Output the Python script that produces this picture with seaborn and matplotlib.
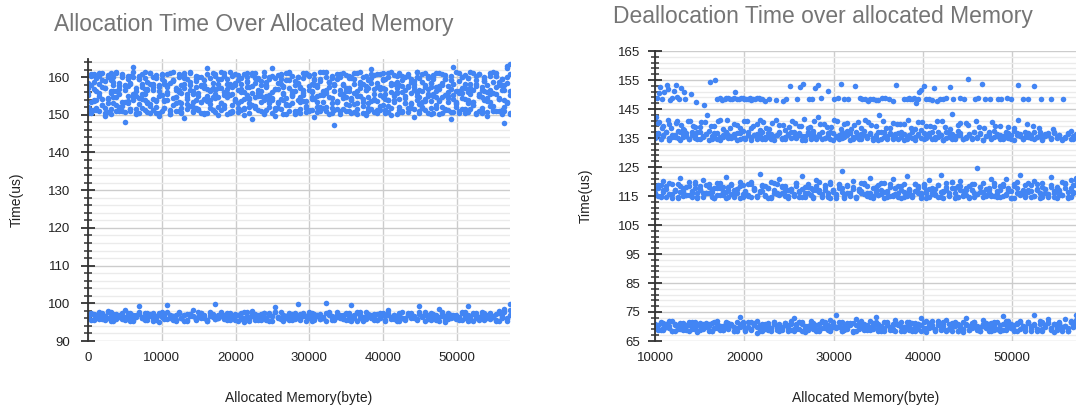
import matplotlib
matplotlib.use("Agg")
import pandas as pd
import matplotlib.pyplot as plt
from matplotlib.ticker import MultipleLocator
import seaborn as sns

# === Datos ===
# Asignación: tamaños barridos (bytes) y tiempos (us) por franja
alloc_sizes = [
    0, 370, 760, 1150, 1530, 1910, 2300, 2680, 3070, 3440,
    3830, 4220, 4600, 4990, 5360, 5750, 6130, 6520, 6900, 7290,
    7670, 8050, 8440, 8820, 9200, 9590, 9970, 10360, 10740, 11130,
    11500, 11890, 12270, 12660, 13040, 13420, 13810, 14190, 14580, 14960,
    15340, 15730, 16110, 16500, 16880, 17260, 17650, 18030, 18420, 18800,
    19180, 19570, 19950, 20340, 20720, 21100, 21490, 21870, 22260, 22640,
    23020, 23410, 23790, 24180, 24560, 24940, 25330, 25710, 26100, 26480,
    26860, 27250, 27630, 28020, 28400, 28780, 29170, 29550, 29940, 30320,
    30700, 31090, 31470, 31860, 32240, 32620, 33010, 33390, 33780, 34160,
    34540, 34930, 35310, 35700, 36080, 36460, 36850, 37230, 37620, 38000,
    38380, 38770, 39150, 39540, 39920, 40300, 40690, 41070, 41460, 41840,
    42220, 42610, 42990, 43380, 43760, 44140, 44530, 44910, 45300, 45680,
    46060, 46450, 46830, 47220, 47600, 47980, 48370, 48750, 49140, 49520,
    49900, 50290, 50670, 51060, 51440, 51820, 52210, 52590, 52980, 53360,
    53740, 54130, 54510, 54900, 55280, 55660, 56050, 56430, 56820, 57200,
]
alloc_upper_a = [
    158.4, 160.2, 156.9, 159.7, 161.1, 157.3, 159.0, 160.6, 156.2, 158.8,
    161.4, 157.7, 159.9, 156.5, 160.3, 158.1, 162.8, 157.0, 159.4, 160.9,
    156.8, 158.6, 161.2, 157.5, 159.8, 156.3, 160.5, 158.2, 157.9, 161.0,
    159.3, 156.6, 160.8, 158.0, 157.2, 159.6, 161.3, 156.4, 158.9, 160.1,
    157.6, 159.2, 162.3, 156.7, 158.5, 160.7, 157.1, 159.5, 161.2, 156.9,
    158.3, 160.4, 157.8, 159.1, 156.1, 160.9, 158.7, 157.4, 161.1, 159.8,
    156.5, 158.0, 160.2, 157.3, 159.6, 162.5, 156.8, 158.4, 160.6, 157.7,
    159.3, 161.4, 156.2, 158.9, 160.0, 157.0, 159.7, 161.0, 156.6, 158.2,
    160.8, 157.5, 159.0, 156.3, 161.3, 158.6, 160.3, 157.9, 159.4, 156.7,
    158.1, 160.5, 157.2, 159.9, 161.2, 156.4, 158.8, 160.1, 157.6, 159.2,
    162.1, 156.9, 158.5, 160.7, 157.1, 159.5, 161.1, 156.0, 158.3, 160.4,
    157.8, 159.1, 156.5, 160.9, 158.7, 157.4, 161.4, 159.8, 156.2, 158.0,
    160.2, 157.3, 159.6, 161.0, 156.8, 158.4, 160.6, 157.7, 159.3, 162.7,
    156.3, 158.9, 160.0, 157.0, 159.7, 161.3, 156.6, 158.2, 160.8, 157.5,
    159.0, 156.1, 161.2, 158.6, 160.3, 157.9, 159.4, 156.7, 162.9, 163.4,
]
alloc_upper_b = [
    152.1, 150.4, 153.8, 151.2, 155.0, 152.7, 149.8, 154.3, 151.6, 153.1,
    150.9, 155.4, 152.4, 148.2, 153.6, 151.0, 154.8, 150.2, 152.9, 155.6,
    151.4, 153.3, 150.6, 154.1, 152.0, 149.6, 155.2, 151.8, 153.9, 150.3,
    152.6, 154.6, 151.1, 153.0, 149.1, 155.5, 152.3, 150.7, 154.0, 151.5,
    153.5, 150.1, 155.1, 152.8, 151.3, 154.5, 149.9, 153.2, 151.9, 155.7,
    150.5, 152.5, 154.2, 151.7, 153.7, 150.0, 155.3, 152.2, 148.8, 154.7,
    151.2, 153.4, 150.8, 155.0, 152.0, 154.4, 149.7, 153.1, 151.6, 155.5,
    150.3, 152.7, 154.9, 151.0, 153.8, 150.6, 155.2, 152.4, 151.4, 154.1,
    149.5, 153.3, 150.9, 155.6, 152.1, 154.6, 151.8, 147.4, 153.6, 150.2,
    155.4, 152.9, 151.1, 154.3, 150.7, 153.0, 155.1, 152.3, 149.9, 154.8,
    151.5, 153.9, 150.4, 155.3, 152.6, 151.3, 154.0, 150.0, 153.5, 155.7,
    152.2, 150.8, 154.5, 151.9, 153.2, 149.3, 155.0, 152.8, 151.7, 154.2,
    150.5, 153.7, 155.5, 152.5, 150.1, 154.7, 151.2, 153.4, 148.9, 155.2,
    152.0, 150.6, 154.4, 151.6, 153.1, 155.6, 152.7, 150.3, 154.9, 151.0,
    153.8, 149.6, 155.4, 152.4, 150.9, 154.1, 151.4, 147.8, 153.3, 150.2,
]
alloc_upper_c = [
    155.8, 151.3, 158.6, 153.9, 160.4, 152.5, 157.1, 150.7, 159.3, 154.6,
    156.2, 152.0, 160.8, 153.4, 157.7, 151.6, 159.9, 155.1, 150.5, 158.2,
    154.0, 156.9, 152.8, 160.1, 153.7, 157.4, 151.1, 159.0, 155.5, 150.9,
    158.9, 153.1, 156.6, 151.9, 160.6, 154.3, 157.9, 152.2, 159.6, 155.9,
    150.4, 158.0, 153.6, 156.3, 151.4, 160.3, 154.8, 157.2, 152.6, 159.4,
    155.3, 150.8, 158.4, 153.2, 156.8, 151.8, 160.0, 154.5, 157.6, 152.3,
    159.7, 155.0, 150.6, 158.7, 153.8, 156.1, 151.2, 160.5, 154.2, 157.3,
    152.9, 159.1, 155.6, 150.3, 158.3, 153.5, 156.7, 151.7, 160.2, 154.7,
    157.8, 152.1, 159.5, 155.2, 150.9, 158.8, 153.0, 156.4, 151.5, 160.7,
    154.4, 157.0, 152.7, 159.8, 155.7, 150.2, 158.1, 153.3, 156.5, 151.0,
    160.9, 154.1, 157.5, 152.4, 159.2, 155.4, 150.7, 158.5, 153.9, 156.0,
    151.3, 160.4, 154.9, 157.4, 152.8, 159.0, 155.8, 150.5, 158.6, 153.6,
    156.9, 151.9, 160.1, 154.6, 157.7, 152.0, 159.6, 155.1, 150.8, 158.2,
    153.4, 156.3, 151.6, 160.6, 154.0, 157.1, 152.5, 159.3, 155.5, 150.4,
    158.9, 153.7, 156.6, 151.1, 160.3, 154.3, 157.9, 152.2, 159.9, 156.2,
]
alloc_upper_d = [
    157.2, 153.5, 160.7, 151.8, 155.9, 159.1, 150.6, 154.4, 161.0, 156.3,
    152.7, 158.5, 150.9, 157.8, 153.0, 160.2, 155.4, 151.5, 159.6, 154.1,
    161.3, 156.7, 152.3, 158.1, 150.4, 155.0, 160.9, 153.8, 157.5, 151.2,
    159.3, 154.8, 156.0, 150.8, 161.1, 152.9, 158.7, 155.6, 151.7, 160.0,
    153.3, 157.0, 150.5, 159.8, 154.6, 156.5, 152.1, 161.4, 155.2, 158.3,
    150.7, 157.4, 153.9, 160.5, 151.4, 156.1, 159.0, 154.2, 152.5, 161.2,
    155.7, 158.9, 150.3, 157.6, 153.1, 160.3, 151.9, 156.8, 159.5, 154.0,
    152.6, 161.0, 155.3, 158.0, 150.9, 157.3, 153.6, 160.8, 151.1, 156.4,
    159.2, 154.9, 152.0, 161.3, 155.8, 158.6, 150.6, 157.9, 153.4, 160.1,
    151.6, 156.2, 159.7, 154.5, 152.8, 161.1, 155.1, 158.2, 150.4, 157.1,
    153.7, 160.6, 151.3, 156.9, 159.4, 154.3, 152.4, 161.4, 155.5, 158.8,
    150.8, 157.7, 153.2, 160.4, 151.8, 156.6, 159.9, 154.7, 152.2, 161.2,
    155.0, 158.4, 150.5, 157.5, 153.8, 160.9, 151.5, 156.0, 159.1, 154.1,
    152.9, 161.0, 155.9, 158.1, 150.7, 157.2, 153.5, 160.2, 151.0, 156.5,
    159.6, 154.4, 152.3, 161.3, 155.6, 158.7, 150.3, 157.8, 153.0, 160.7,
]
alloc_upper_e = [
    150.6, 160.8, 151.4, 159.7, 150.9, 161.2, 151.8, 160.1, 150.3, 159.9,
    161.0, 151.1, 160.5, 150.7, 159.6, 151.6, 161.3, 150.4, 160.3, 151.9,
    159.8, 150.8, 161.1, 151.3, 160.6, 150.5, 159.5, 151.7, 160.9, 150.2,
    161.4, 151.0, 160.0, 150.6, 159.7, 151.5, 161.2, 150.9, 160.4, 151.2,
    159.9, 150.4, 160.7, 151.8, 161.0, 150.7, 159.6, 151.4, 160.2, 150.3,
    161.3, 151.1, 160.8, 150.8, 159.8, 151.6, 161.1, 150.5, 160.5, 151.9,
    159.5, 150.9, 161.4, 151.3, 160.1, 150.6, 159.7, 151.7, 160.9, 150.2,
    161.2, 151.0, 160.3, 150.4, 159.9, 151.5, 161.0, 150.8, 160.6, 151.2,
    159.6, 150.7, 161.3, 151.8, 160.0, 150.3, 159.8, 151.4, 160.7, 150.9,
    161.1, 151.1, 160.4, 150.5, 159.5, 151.6, 161.4, 150.6, 160.2, 151.9,
    159.7, 150.8, 160.8, 151.3, 161.2, 150.4, 159.9, 151.7, 160.5, 150.2,
    161.0, 151.0, 160.1, 150.7, 159.6, 151.5, 161.3, 150.9, 160.9, 151.2,
    159.8, 150.3, 160.6, 151.8, 161.1, 150.6, 159.5, 151.4, 160.3, 150.8,
    161.4, 151.1, 160.0, 150.5, 159.7, 151.6, 161.2, 150.4, 160.7, 151.9,
    159.9, 150.7, 160.4, 151.3, 161.0, 150.9, 159.6, 151.0, 162.4, 150.5,
]
alloc_upper_f = [
    155.2, 157.9, 153.6, 156.4, 158.3, 154.1, 157.0, 153.2, 155.8, 158.0,
    154.7, 156.9, 153.4, 157.6, 155.0, 158.5, 153.9, 156.2, 154.4, 157.3,
    155.6, 153.1, 158.1, 156.7, 154.0, 157.8, 155.3, 153.7, 156.0, 158.4,
    154.5, 157.1, 153.3, 155.9, 158.2, 154.8, 156.5, 153.5, 157.5, 155.1,
    158.0, 154.2, 156.8, 153.8, 157.2, 155.5, 158.3, 153.0, 156.1, 154.6,
    157.7, 155.4, 153.6, 156.6, 158.1, 154.3, 157.4, 153.2, 155.7, 158.5,
    154.9, 156.3, 153.9, 157.9, 155.2, 154.0, 156.9, 153.4, 158.2, 155.8,
    154.5, 157.0, 153.1, 156.4, 158.4, 154.7, 155.9, 153.7, 157.6, 156.0,
    154.1, 158.0, 155.3, 153.5, 156.7, 157.3, 154.4, 158.3, 153.3, 155.6,
    157.8, 154.8, 156.2, 153.8, 158.1, 155.0, 157.1, 154.2, 156.5, 153.0,
    158.5, 155.4, 153.6, 157.5, 154.6, 156.8, 153.9, 158.0, 155.1, 157.2,
    154.3, 156.0, 153.2, 157.7, 155.7, 158.2, 154.0, 156.6, 153.4, 157.4,
    155.5, 158.4, 154.9, 156.3, 153.7, 157.9, 155.2, 154.5, 156.9, 158.1,
    153.1, 155.8, 157.0, 154.1, 156.1, 158.3, 153.5, 157.6, 155.0, 154.7,
    156.4, 158.0, 153.3, 155.9, 157.3, 154.4, 156.7, 153.8, 158.5, 155.3,
]
alloc_lower_a = [
    96.4, 97.2, 95.8, 96.9, 97.6, 96.1, 95.5, 97.9, 96.6, 97.1,
    95.9, 96.3, 97.4, 98.2, 96.0, 95.3, 97.0, 96.7, 99.4, 96.2,
    97.5, 95.7, 96.8, 97.3, 96.5, 95.1, 97.8, 96.4, 99.5, 97.0,
    95.6, 96.9, 97.6, 96.2, 95.4, 97.2, 96.7, 98.1, 95.8, 96.3,
    97.4, 96.0, 95.2, 97.7, 96.6, 99.8, 96.1, 97.1, 95.9, 96.8,
    97.3, 96.5, 95.5, 97.0, 96.4, 95.0, 97.6, 96.2, 97.9, 95.7,
    96.9, 97.2, 96.3, 95.6, 97.5, 96.7, 99.1, 96.0, 97.8, 95.4,
    96.6, 97.4, 96.1, 95.8, 99.9, 97.1, 96.5, 95.3, 97.7, 96.8,
    96.2, 97.0, 95.9, 96.4, 100.2, 97.3, 96.0, 95.5, 97.6, 96.7,
    96.3, 97.2, 95.6, 99.6, 96.9, 97.5, 96.1, 95.2, 97.8, 96.5,
    96.8, 97.1, 95.7, 96.2, 97.4, 96.6, 98.3, 95.9, 97.0, 96.4,
    95.4, 97.7, 96.0, 96.9, 97.3, 96.3, 95.8, 99.3, 96.7, 97.6,
    96.1, 95.5, 97.2, 96.8, 98.4, 96.5, 95.1, 97.5, 96.2, 96.9,
    97.0, 96.4, 95.7, 97.8, 99.4, 96.6, 95.3, 97.3, 96.0, 97.1,
    95.9, 96.7, 97.4, 96.3, 95.6, 97.9, 96.1, 98.6, 95.2, 99.9,
]
alloc_lower_b = [
    96.8, 95.6, 97.1, 96.2, 95.9, 97.4, 96.5, 96.0, 97.7, 95.4,
    96.3, 97.0, 96.9, 95.7, 96.6, 97.3, 95.2, 96.4, 97.6, 96.1,
    95.8, 96.7, 97.2, 96.0, 95.5, 97.5, 96.3, 96.9, 95.9, 97.0,
    96.6, 95.3, 97.4, 96.2, 96.8, 95.7, 97.1, 96.5, 95.6, 97.8,
    96.1, 96.9, 95.4, 97.3, 96.4, 95.9, 97.0, 96.7, 96.0, 97.5,
    95.5, 96.3, 97.2, 96.8, 95.8, 97.6, 96.2, 95.3, 96.6, 97.1,
    96.5, 95.6, 97.4, 96.0, 96.9, 95.4, 97.7, 96.3, 95.9, 97.0,
    96.7, 96.1, 95.5, 97.3, 96.4, 95.8, 97.2, 96.6, 96.0, 97.5,
    95.7, 96.8, 97.1, 96.2, 95.4, 97.6, 96.5, 95.9, 96.3, 97.0,
    96.9, 95.6, 97.4, 96.1, 96.7, 95.3, 97.8, 96.4, 95.8, 97.2,
    96.0, 96.6, 95.5, 97.3, 96.8, 95.7, 97.0, 96.3, 96.9, 95.4,
    97.5, 96.2, 95.9, 97.1, 96.5, 96.0, 95.6, 97.7, 96.4, 96.8,
    95.8, 97.2, 96.1, 96.6, 95.3, 97.4, 96.7, 95.9, 97.0, 96.3,
    96.5, 95.5, 97.6, 96.2, 96.9, 95.7, 97.3, 96.0, 96.4, 97.8,
    95.6, 96.8, 97.1, 96.3, 95.4, 97.5, 96.6, 97.9, 95.8, 98.1,
]
alloc_lower_c = [
    96.1, 97.3, 95.6, 96.8, 97.0, 95.9, 96.5, 97.6, 95.4, 96.2,
    97.1, 96.7, 95.8, 96.3, 97.5, 96.0, 95.5, 96.9, 97.2, 96.4,
    95.7, 97.4, 96.6, 95.3, 96.1, 97.0, 96.8, 95.9, 97.6, 96.2,
    96.5, 95.6, 97.3, 96.0, 96.9, 95.4, 97.1, 96.7, 95.8, 96.3,
    97.5, 96.4, 95.5, 96.6, 97.2, 95.9, 96.1, 97.7, 96.8, 95.7,
    96.2, 97.0, 96.5, 95.3, 97.4, 96.0, 96.7, 95.8, 97.1, 96.3,
    95.6, 96.9, 97.3, 96.1, 95.4, 96.6, 97.6, 96.4, 95.9, 97.0,
    96.2, 95.5, 97.2, 96.8, 96.0, 95.7, 97.5, 96.5, 96.3, 95.3,
    97.1, 96.7, 95.8, 96.1, 97.4, 96.9, 95.6, 96.4, 97.0, 96.2,
    95.9, 97.3, 96.6, 95.4, 96.0, 97.6, 96.8, 95.5, 96.5, 97.2,
    96.3, 95.7, 97.1, 96.1, 96.9, 95.3, 97.5, 96.4, 95.8, 96.7,
    97.0, 96.2, 95.6, 97.4, 96.0, 96.6, 95.9, 97.2, 96.5, 95.4,
    96.8, 97.3, 96.1, 95.7, 96.3, 97.6, 95.5, 96.9, 97.0, 96.4,
    95.8, 96.2, 97.5, 96.7, 95.3, 96.0, 97.1, 96.5, 95.6, 96.8,
    97.4, 96.1, 95.9, 96.6, 97.2, 95.4, 96.3, 97.7, 96.0, 96.9,
]

# Liberación: tamaños barridos (bytes) y tiempos (us) por franja
dealloc_sizes = [
    10000, 10320, 10630, 10950, 11270, 11580, 11900, 12220, 12530, 12850,
    13170, 13480, 13800, 14120, 14430, 14750, 15070, 15380, 15700, 16020,
    16330, 16650, 16970, 17280, 17600, 17920, 18230, 18550, 18870, 19180,
    19500, 19820, 20130, 20450, 20770, 21080, 21400, 21720, 22030, 22350,
    22670, 22980, 23300, 23620, 23930, 24250, 24570, 24880, 25200, 25520,
    25830, 26150, 26470, 26780, 27100, 27420, 27730, 28050, 28370, 28680,
    29000, 29320, 29630, 29950, 30270, 30580, 30900, 31220, 31530, 31850,
    32170, 32480, 32800, 33120, 33430, 33750, 34070, 34380, 34700, 35020,
    35330, 35650, 35970, 36280, 36600, 36920, 37230, 37550, 37870, 38180,
    38500, 38820, 39130, 39450, 39770, 40080, 40400, 40720, 41030, 41350,
    41670, 41980, 42300, 42620, 42930, 43250, 43570, 43880, 44200, 44520,
    44830, 45150, 45470, 45780, 46100, 46420, 46730, 47050, 47370, 47680,
    48000, 48320, 48630, 48950, 49270, 49580, 49900, 50220, 50530, 50850,
    51170, 51480, 51800, 52120, 52430, 52750, 53070, 53380, 53700, 54020,
    54330, 54650, 54970, 55280, 55600, 55920, 56230, 56550, 56870, 57180,
]
dealloc_70_a = [
    70.2, 69.1, 71.4, 68.7, 70.8, 69.6, 71.9, 68.4, 70.0, 69.3,
    71.2, 68.9, 70.5, 69.8, 71.6, 68.2, 70.3, 69.0, 71.1, 70.7,
    68.6, 69.5, 71.8, 70.1, 68.8, 69.9, 71.3, 70.6, 68.3, 69.4,
    73.4, 70.9, 68.5, 69.7, 71.5, 70.4, 67.6, 69.2, 71.0, 70.2,
    68.9, 69.6, 71.7, 70.0, 68.4, 69.8, 71.2, 70.5, 68.7, 73.1,
    69.3, 71.4, 70.8, 68.1, 69.5, 71.9, 70.3, 68.6, 69.0, 71.6,
    70.7, 68.8, 72.3, 69.9, 74.0, 70.1, 68.5, 69.4, 71.3, 70.6,
    68.2, 72.6, 71.1, 69.7, 68.9, 70.4, 71.8, 69.2, 73.2, 70.9,
    68.3, 69.6, 71.5, 70.0, 68.7, 72.1, 71.0, 69.8, 68.4, 70.2,
    71.7, 69.1, 68.6, 70.8, 72.8, 69.5, 68.0, 71.2, 70.5, 69.3,
    71.9, 68.8, 70.1, 72.4, 69.0, 68.5, 71.4, 70.7, 69.7, 68.2,
    72.9, 70.3, 69.4, 71.6, 68.9, 70.0, 72.2, 69.8, 68.6, 71.1,
    70.6, 69.2, 68.3, 73.5, 70.4, 71.8, 69.6, 68.7, 70.9, 72.0,
    69.9, 68.4, 71.3, 70.2, 74.1, 69.1, 68.8, 71.5, 70.5, 72.7,
    69.5, 68.1, 71.0, 70.8, 69.3, 72.5, 68.6, 71.7, 70.1, 73.8,
]
dealloc_70_b = [
    69.4, 70.6, 68.8, 71.2, 69.9, 70.1, 68.5, 71.0, 69.6, 70.8,
    68.9, 70.3, 71.5, 69.2, 70.0, 68.6, 71.3, 69.8, 70.5, 68.4,
    71.1, 69.5, 70.7, 68.7, 70.2, 71.6, 69.1, 70.4, 69.7, 68.3,
    70.9, 71.4, 69.3, 70.0, 68.8, 71.2, 69.9, 70.6, 68.5, 71.0,
    70.3, 69.4, 71.7, 68.9, 70.1, 69.6, 71.3, 68.6, 70.8, 69.2,
    70.5, 71.5, 68.4, 69.8, 70.2, 71.1, 69.0, 68.7, 70.7, 71.8,
    69.5, 70.4, 68.3, 71.4, 69.7, 70.0, 71.6, 68.8, 69.3, 70.9,
    71.2, 68.5, 70.6, 69.9, 71.0, 69.1, 68.9, 70.3, 71.7, 69.6,
    70.1, 68.6, 71.3, 69.4, 70.8, 68.4, 70.5, 71.5, 69.2, 70.0,
    68.7, 71.1, 69.8, 70.7, 68.3, 71.4, 69.5, 70.2, 71.8, 68.9,
    70.4, 69.0, 71.6, 68.6, 70.9, 69.7, 71.2, 68.5, 70.1, 69.3,
    71.0, 68.8, 70.6, 71.5, 69.9, 68.4, 70.3, 71.3, 69.6, 70.0,
    68.7, 71.7, 69.1, 70.8, 68.9, 71.1, 69.4, 70.5, 68.3, 71.4,
    70.2, 69.8, 71.6, 68.6, 70.7, 69.2, 71.0, 68.5, 70.4, 71.2,
    69.5, 70.9, 68.8, 71.5, 69.7, 70.1, 68.4, 71.8, 69.9, 71.3,
]
dealloc_70_c = [
    70.7, 68.9, 71.3, 69.5, 70.0, 71.8, 68.6, 70.4, 69.2, 71.1,
    69.8, 70.6, 68.4, 71.5, 69.3, 70.9, 68.7, 71.0, 69.9, 70.2,
    68.5, 71.7, 69.6, 70.3, 68.8, 71.2, 69.4, 70.8, 68.3, 71.4,
    69.7, 70.1, 68.9, 71.6, 69.0, 70.5, 71.9, 68.6, 70.0, 69.3,
    71.3, 68.4, 70.7, 69.8, 71.0, 68.8, 70.4, 69.5, 71.8, 68.5,
    70.9, 69.1, 71.5, 70.2, 68.7, 69.9, 71.2, 70.6, 68.3, 69.6,
    71.7, 70.0, 68.9, 70.8, 69.4, 71.4, 68.6, 70.3, 69.7, 71.1,
    68.4, 70.5, 69.2, 71.9, 70.1, 68.8, 69.8, 71.3, 70.7, 68.5,
    69.5, 71.6, 70.4, 68.7, 69.0, 71.0, 70.9, 68.3, 69.9, 71.5,
    70.2, 68.6, 71.2, 69.3, 70.6, 68.9, 71.8, 69.6, 70.0, 68.4,
    71.4, 69.7, 70.8, 68.8, 69.1, 71.1, 70.3, 68.5, 69.4, 71.7,
    70.5, 68.7, 71.3, 69.8, 70.1, 68.3, 71.0, 69.5, 70.9, 68.6,
    71.6, 69.2, 70.4, 68.9, 71.9, 69.9, 70.7, 68.4, 71.2, 69.0,
    70.2, 68.8, 71.5, 69.6, 70.6, 68.5, 71.8, 69.3, 70.0, 71.4,
    68.7, 70.8, 69.7, 71.1, 68.3, 70.3, 69.4, 71.7, 70.5, 72.2,
]
dealloc_117_a = [
    116.2, 118.7, 114.9, 120.3, 117.4, 115.6, 119.2, 116.8, 114.5, 121.1,
    117.9, 115.2, 118.4, 116.0, 119.8, 114.7, 117.1, 120.6, 115.9, 118.1,
    116.5, 114.3, 119.5, 117.6, 115.4, 121.4, 116.9, 118.9, 114.8, 117.3,
    120.0, 115.7, 116.4, 119.1, 114.6, 117.8, 115.1, 122.7, 116.7, 118.3,
    114.4, 119.7, 117.0, 115.8, 120.9, 116.1, 118.6, 114.9, 117.5, 115.3,
    119.4, 116.6, 121.8, 114.5, 118.0, 115.5, 117.2, 120.4, 116.3, 114.8,
    118.8, 115.0, 119.9, 116.9, 114.2, 117.7, 123.6, 115.6, 118.5, 116.2,
    120.2, 114.7, 117.4, 115.9, 119.3, 116.0, 121.2, 114.4, 118.2, 115.4,
    117.1, 119.6, 116.5, 114.9, 120.7, 115.7, 118.4, 117.0, 114.6, 121.9,
    116.8, 115.2, 119.0, 117.6, 114.3, 118.9, 116.1, 120.5, 115.8, 117.3,
    114.8, 122.3, 116.4, 118.1, 115.0, 119.8, 117.9, 114.5, 120.1, 116.7,
    115.5, 118.6, 117.2, 114.7, 124.8, 116.3, 119.4, 115.3, 117.8, 121.0,
    114.9, 116.6, 118.3, 115.1, 120.8, 117.5, 114.4, 119.1, 116.0, 122.1,
    115.6, 118.7, 117.0, 114.6, 120.3, 116.9, 115.9, 119.6, 117.4, 114.8,
    121.5, 116.2, 118.0, 115.4, 119.9, 117.7, 114.5, 120.6, 116.5, 121.3,
]
dealloc_117_b = [
    115.3, 117.6, 114.6, 116.9, 118.4, 115.8, 114.2, 117.1, 119.0, 116.3,
    114.9, 118.1, 115.5, 116.7, 119.3, 114.4, 117.4, 115.9, 118.8, 116.0,
    114.7, 117.9, 115.2, 119.4, 116.5, 114.3, 118.2, 115.7, 117.0, 116.1,
    118.6, 114.8, 116.8, 115.4, 119.1, 117.3, 114.5, 116.4, 118.9, 115.0,
    117.7, 114.2, 119.5, 116.2, 115.6, 118.0, 114.9, 117.2, 116.6, 115.1,
    118.5, 114.6, 117.5, 116.0, 119.2, 115.3, 114.4, 118.3, 116.9, 115.8,
    117.0, 114.7, 119.0, 116.4, 115.2, 118.7, 117.8, 114.3, 116.1, 115.5,
    118.1, 114.8, 117.3, 116.7, 119.4, 115.0, 114.5, 117.6, 116.3, 118.9,
    115.7, 114.2, 116.8, 119.3, 115.4, 117.9, 114.6, 118.4, 116.5, 115.1,
    117.1, 114.9, 119.1, 116.0, 115.9, 118.2, 114.4, 117.4, 116.2, 115.6,
    118.8, 114.7, 116.6, 119.5, 115.3, 117.7, 114.3, 118.6, 116.9, 115.0,
    117.2, 114.8, 119.0, 116.1, 115.8, 118.0, 114.5, 117.5, 116.4, 115.2,
    118.3, 114.6, 117.0, 119.2, 115.5, 116.7, 114.2, 118.5, 117.8, 115.9,
    116.3, 114.9, 119.4, 116.8, 115.1, 117.3, 114.4, 118.1, 116.0, 115.7,
    118.9, 114.7, 117.6, 116.5, 115.4, 119.1, 114.3, 117.9, 116.2, 118.7,
]
dealloc_117_c = [
    117.5, 115.1, 118.9, 116.4, 114.6, 119.6, 115.8, 117.2, 114.3, 118.4,
    116.7, 115.4, 119.9, 114.8, 117.8, 116.1, 118.6, 114.5, 115.9, 119.3,
    116.9, 114.2, 117.6, 115.3, 118.1, 116.5, 114.7, 119.0, 115.6, 117.4,
    114.4, 118.7, 116.2, 115.0, 119.7, 117.1, 114.9, 116.8, 118.3, 115.5,
    117.9, 114.6, 116.0, 119.2, 115.2, 118.5, 116.6, 114.3, 117.3, 115.7,
    119.5, 116.3, 114.8, 118.0, 115.9, 117.7, 114.5, 116.9, 119.8, 115.4,
    118.2, 116.1, 114.2, 117.0, 115.6, 119.1, 116.4, 114.7, 118.8, 115.1,
    117.5, 114.4, 116.7, 119.4, 115.8, 118.4, 116.0, 114.9, 117.2, 115.3,
    119.6, 116.5, 114.6, 118.1, 115.0, 117.8, 116.2, 114.3, 119.0, 115.7,
    117.4, 114.8, 116.8, 118.6, 115.2, 119.3, 116.6, 114.5, 117.6, 115.5,
    118.9, 116.3, 114.2, 117.1, 115.9, 119.7, 116.0, 114.7, 118.3, 115.4,
    117.9, 114.4, 116.9, 119.2, 115.6, 118.0, 116.4, 114.9, 117.3, 115.1,
    119.5, 116.1, 114.6, 118.5, 115.8, 117.7, 116.7, 114.3, 119.9, 115.3,
    117.0, 114.8, 116.5, 118.7, 115.0, 119.1, 116.2, 114.5, 117.5, 115.7,
    118.2, 116.8, 114.2, 117.2, 115.5, 119.4, 116.3, 114.7, 118.8, 120.4,
]
dealloc_136_a = [
    135.4, 136.7, 134.6, 135.9, 137.2, 134.9, 136.1, 135.2, 137.5, 134.4,
    136.4, 135.7, 134.8, 137.0, 135.0, 136.9, 134.5, 135.6, 136.3, 137.4,
    134.7, 135.8, 136.6, 134.3, 135.3, 137.1, 136.0, 134.9, 135.5, 136.8,
    134.6, 137.3, 135.1, 136.2, 134.4, 135.9, 136.5, 137.6, 134.8, 135.4,
    136.7, 134.5, 135.7, 136.0, 137.2, 134.7, 135.2, 136.4, 134.9, 137.0,
    135.6, 136.1, 134.3, 135.8, 136.9, 134.6, 137.4, 135.3, 136.3, 134.8,
    135.0, 136.6, 137.1, 134.4, 135.5, 136.2, 134.9, 135.9, 137.5, 136.8,
    134.5, 135.4, 136.0, 134.7, 137.3, 135.7, 136.5, 134.3, 135.1, 136.9,
    134.8, 137.0, 135.6, 136.3, 134.6, 135.2, 136.7, 137.2, 134.4, 135.8,
    136.1, 134.9, 135.3, 136.4, 137.6, 134.5, 135.9, 136.6, 134.7, 135.5,
    137.1, 136.0, 134.3, 135.0, 136.8, 134.8, 135.7, 137.4, 136.2, 134.6,
    135.4, 136.5, 134.9, 137.0, 135.1, 136.3, 134.4, 135.8, 136.9, 134.7,
    137.3, 135.6, 136.1, 134.5, 135.2, 136.7, 134.8, 137.5, 135.9, 136.4,
    134.6, 135.3, 136.6, 134.9, 137.2, 135.5, 136.0, 134.3, 135.7, 136.8,
    134.7, 137.1, 135.4, 136.2, 134.5, 135.0, 136.5, 137.4, 134.8, 135.6,
]
dealloc_136_b = [
    135.1, 136.4, 134.7, 135.8, 136.9, 134.4, 135.5, 136.2, 134.9, 137.0,
    135.3, 136.6, 134.5, 135.9, 136.1, 134.8, 137.2, 135.2, 136.5, 134.3,
    135.7, 136.8, 134.6, 135.4, 136.0, 137.1, 134.9, 135.6, 136.3, 134.4,
    136.7, 135.0, 134.7, 136.9, 135.5, 136.2, 134.5, 135.8, 137.0, 134.8,
    135.3, 136.4, 134.3, 135.9, 136.6, 135.1, 134.6, 136.1, 137.2, 135.4,
    134.9, 136.8, 135.7, 134.4, 136.3, 135.2, 136.5, 134.7, 135.6, 137.1,
    135.0, 136.0, 134.5, 136.7, 135.8, 134.8, 136.9, 135.3, 136.2, 134.3,
    135.5, 137.0, 134.6, 136.4, 135.9, 134.9, 136.6, 135.1, 136.1, 134.4,
    137.2, 135.4, 134.7, 136.8, 135.7, 136.3, 134.5, 135.2, 136.5, 134.8,
    135.6, 137.1, 134.3, 136.0, 135.0, 136.7, 134.9, 135.8, 136.9, 134.6,
    135.3, 136.2, 134.4, 137.0, 135.5, 136.4, 134.7, 135.9, 136.6, 134.5,
    135.1, 136.1, 134.8, 137.2, 135.4, 136.8, 134.3, 135.7, 136.3, 134.9,
    135.2, 136.5, 134.6, 135.6, 137.1, 135.0, 136.0, 134.4, 136.7, 135.8,
    134.7, 136.9, 135.3, 136.2, 134.5, 135.5, 137.0, 134.8, 136.4, 135.9,
    134.9, 136.6, 135.1, 136.1, 134.3, 135.4, 136.8, 134.6, 135.7, 136.3,
]
dealloc_139_sizes = [
    10100, 10500, 10900, 11400, 11800, 12300, 12900, 13300, 13900, 14500,
    15200, 15800, 16300, 17000, 17600, 18100, 18900, 19500, 20300, 21000,
    21800, 22400, 23100, 23900, 24600, 25300, 26100, 26700, 27400, 28200,
    28900, 29700, 30400, 31200, 31900, 32700, 33500, 34200, 35100, 35900,
    36600, 37400, 38300, 39100, 39900, 40800, 41600, 42500, 43300, 44200,
    45100, 45900, 46800, 47700, 48600, 49500, 50600, 51700, 53000, 54600,
]
dealloc_139 = [
    142.4, 140.6, 139.1, 141.2, 138.3, 140.1, 139.6, 137.9, 141.0, 138.8,
    140.4, 143.1, 139.3, 140.9, 138.1, 141.3, 139.8, 138.6, 140.7, 139.0,
    141.1, 138.4, 140.2, 139.5, 137.8, 140.8, 139.2, 141.4, 138.7, 142.2,
    140.0, 138.9, 141.0, 139.7, 138.2, 140.5, 141.2, 139.4, 142.8, 138.5,
    140.3, 139.9, 141.1, 138.0, 140.6, 139.1, 140.9, 138.8, 143.4, 140.1,
    139.6, 141.0, 138.4, 140.4, 139.3, 138.9, 141.1, 139.7, 138.6, 138.2,
]
dealloc_140_sizes = [
    10300, 10800, 11600, 12500, 13100, 13700, 14300, 15000, 15600, 16600,
    17300, 18400, 19200, 20000, 20700, 21400, 22100, 22800, 23500, 24300,
    25000, 25700, 26400, 27100, 27800, 28500, 29300, 30100, 30800, 31500,
    32300, 33100, 33900, 34700, 35500, 36300, 37100, 37900, 38700, 39500,
    40300, 41200, 42100, 43000, 43900, 44800, 46300, 48100, 50200, 52300,
]
dealloc_140 = [
    140.2, 138.5, 139.8, 141.0, 138.1, 140.7, 139.3, 138.8, 140.4, 139.0,
    141.2, 138.3, 139.6, 140.9, 138.6, 139.9, 140.5, 138.2, 141.1, 139.4,
    138.7, 140.1, 139.2, 138.4, 140.8, 139.7, 138.9, 141.3, 138.0, 140.3,
    139.5, 138.6, 140.6, 139.1, 141.0, 138.3, 140.0, 139.8, 138.5, 140.4,
    139.2, 138.8, 140.9, 138.1, 139.6, 140.2, 138.7, 139.3, 138.4, 139.0,
]
dealloc_148_sizes = [
    10200, 10600, 11000, 11300, 11700, 12100, 12500, 12900, 13400, 14000,
    14600, 15500, 16200, 16700, 17300, 17800, 18200, 18600, 19000, 19400,
    19800, 20200, 20600, 21000, 21400, 21800, 22300, 22800, 23500, 24300,
    25100, 25900, 26600, 27300, 27900, 28600, 29400, 30100, 30800, 31600,
    32400, 33000, 33500, 34100, 34700, 35400, 36200, 37000, 37900, 38400,
    38800, 39200, 39600, 40100, 40700, 41300, 41900, 42600, 43400, 44200,
    45000, 45800, 46600, 47500, 48400, 49400, 50600, 51800, 53200, 55700,
]
dealloc_148 = [
    148.9, 152.6, 150.8, 153.4, 148.2, 151.3, 149.0, 152.1, 148.5, 150.2,
    147.3, 146.5, 154.4, 155.1, 148.7, 148.4, 148.8, 148.3, 151.0, 148.6,
    148.9, 148.5, 148.7, 148.4, 148.8, 148.6, 147.9, 148.5, 148.2, 147.8,
    152.9, 148.6, 153.5, 148.3, 152.4, 148.7, 151.2, 148.5, 153.6, 148.4,
    153.1, 148.7, 148.3, 148.6, 148.2, 148.8, 148.5, 153.3, 148.4, 148.9,
    148.6, 147.2, 150.9, 153.0, 148.5, 152.2, 148.3, 148.7, 148.4, 148.8,
    155.3, 148.5, 153.6, 148.3, 148.6, 148.7, 153.4, 148.5, 148.6, 148.4,
]
dealloc_149_sizes = [
    10400, 10800, 11500, 11900, 12300, 12700, 13200, 16900, 17500, 18000,
    18400, 18800, 19200, 19600, 20000, 20400, 20800, 21200, 21600, 22000,
    24700, 26200, 27600, 28200, 30500, 31200, 33200, 33800, 34400, 35000,
    35800, 36600, 38200, 38600, 39000, 39400, 39800, 40400, 41000, 41600,
    42300, 43000, 44600, 46200, 47000, 48800, 49900, 51200, 52500, 54300,
]
dealloc_149 = [
    150.4, 148.3, 152.0, 148.7, 153.2, 148.4, 150.9, 148.6, 148.2, 148.8,
    148.5, 148.7, 148.3, 148.9, 148.4, 148.6, 148.2, 148.5, 148.8, 148.3,
    148.6, 152.7, 148.4, 153.2, 148.7, 148.3, 148.5, 147.8, 148.6, 148.2,
    148.8, 147.9, 148.5, 148.3, 148.7, 148.4, 151.6, 148.6, 148.2, 147.6,
    148.5, 152.6, 148.3, 148.7, 148.4, 148.6, 148.5, 148.3, 153.0, 148.6,
]

alloc_xticks = [0, 10000, 20000, 30000, 40000, 50000]
dealloc_xticks = [10000, 20000, 30000, 40000, 50000]

POINT_COLOR = "#4285F4"


def build_frame(parts):
    """Une las franjas (tamaños, tiempos) en un solo DataFrame."""
    frames = [pd.DataFrame({"size": xs, "time": ys}) for xs, ys in parts]
    return pd.concat(frames, ignore_index=True)


def style_axis(ax, xlim, ylim, xticks, y_offset, tick_pad):
    ax.set_xlim(*xlim)
    ax.set_ylim(*ylim)
    ax.set_xticks(xticks)
    ax.yaxis.set_major_locator(MultipleLocator(10, offset=y_offset))
    ax.yaxis.set_minor_locator(MultipleLocator(2, offset=y_offset % 2))
    ax.grid(which="major", axis="both", color="#cccccc", linewidth=1)
    ax.grid(which="minor", axis="y", color="#ebebeb", linewidth=1)
    ax.set_axisbelow(True)
    for side in ["top", "right", "bottom"]:
        ax.spines[side].set_visible(False)
    ax.spines["left"].set_color("#333333")
    ax.spines["left"].set_linewidth(1.3)
    ax.tick_params(axis="y", which="both", left=True)
    ax.tick_params(axis="y", which="major", direction="inout", length=10,
                   width=1.3, color="#333333", labelsize=9.5,
                   labelcolor="#222222", pad=tick_pad)
    ax.tick_params(axis="y", which="minor", direction="inout", length=6,
                   width=1.1, color="#333333")
    ax.tick_params(axis="x", bottom=False, length=0, pad=8, labelsize=9.5,
                   labelcolor="#222222")
    ax.set_xlabel("Allocated Memory(byte)", fontsize=10, color="#222222")
    ax.set_ylabel("Time(us)", fontsize=10, color="#222222")


# === Configuración visual ===
sns.set_theme(style="white")
plt.rcParams["font.family"] = ["Liberation Sans", "DejaVu Sans"]

alloc_df = build_frame([
    (alloc_sizes, alloc_upper_a), (alloc_sizes, alloc_upper_b),
    (alloc_sizes, alloc_upper_c), (alloc_sizes, alloc_upper_d),
    (alloc_sizes, alloc_upper_e), (alloc_sizes, alloc_upper_f),
    (alloc_sizes, alloc_lower_a), (alloc_sizes, alloc_lower_b),
    (alloc_sizes, alloc_lower_c),
])
dealloc_df = build_frame([
    (dealloc_sizes, dealloc_70_a), (dealloc_sizes, dealloc_70_b),
    (dealloc_sizes, dealloc_70_c),
    (dealloc_sizes, dealloc_117_a), (dealloc_sizes, dealloc_117_b),
    (dealloc_sizes, dealloc_117_c),
    (dealloc_sizes, dealloc_136_a), (dealloc_sizes, dealloc_136_b),
    (dealloc_139_sizes, dealloc_139), (dealloc_140_sizes, dealloc_140),
    (dealloc_148_sizes, dealloc_148), (dealloc_149_sizes, dealloc_149),
])

W, H = 1076, 405
fig = plt.figure(figsize=(W / 100, H / 100), dpi=100)
ax1 = fig.add_axes([88 / W, 1 - 341 / H, 422 / W, 282 / H])
ax2 = fig.add_axes([655 / W, 1 - 341 / H, 421 / W, 290 / H])

sns.scatterplot(data=alloc_df, x="size", y="time", ax=ax1, color=POINT_COLOR,
                s=16, linewidth=0, legend=False)
sns.scatterplot(data=dealloc_df, x="size", y="time", ax=ax2, color=POINT_COLOR,
                s=16, linewidth=0, legend=False)

style_axis(ax1, (0, 57200), (90, 164.8), alloc_xticks, 0, 8)
style_axis(ax2, (10000, 57150), (65, 165), dealloc_xticks, 5, 6)

ax1.xaxis.set_label_coords(0.5, -0.177)
ax2.xaxis.set_label_coords(0.5, -0.172)
ax1.yaxis.set_label_coords(-0.152, 0.5)
ax2.yaxis.set_label_coords(-0.147, 0.5)

fig.text(54 / W, 1 - 31.5 / H, "Allocation Time Over Allocated Memory",
         fontsize=16.5, color="#757575", ha="left", va="baseline")
fig.text(613 / W, 1 - 23 / H, "Deallocation Time over allocated Memory",
         fontsize=16.5, color="#757575", ha="left", va="baseline")

fig.savefig("out.png", dpi=100)
